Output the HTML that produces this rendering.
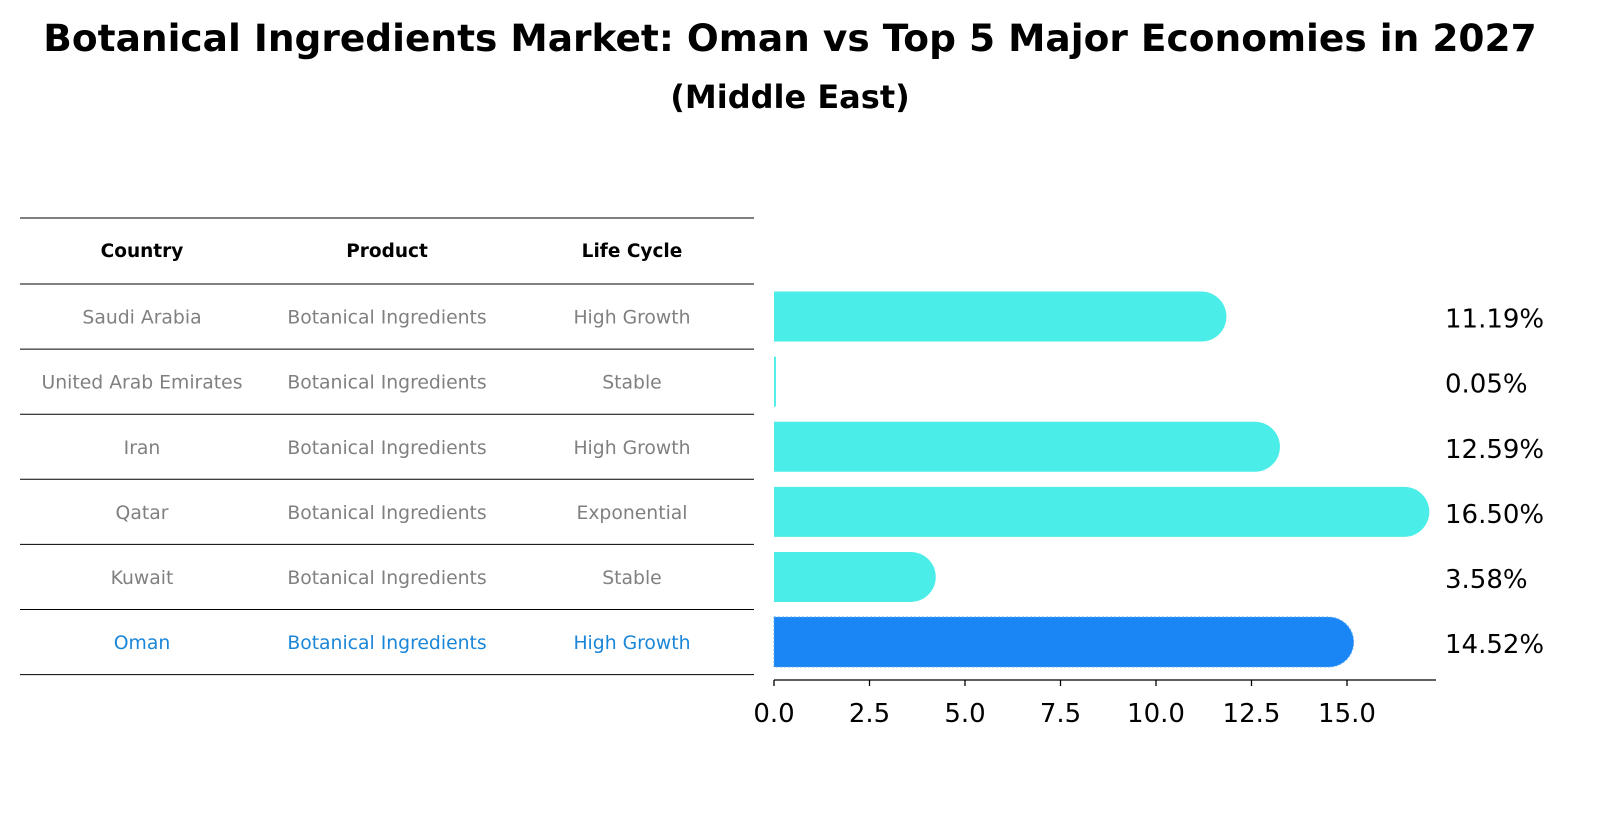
<!DOCTYPE html>
<html><head><meta charset="utf-8"><style>
body{margin:0;background:#fff;}
svg{display:block;font-family:"DejaVu Sans","Liberation Sans",sans-serif;}
</style></head><body>
<svg id="chart" width="1604" height="823" viewBox="0 0 1604 823">
<text x="790" y="51" text-anchor="middle" font-size="37.5" font-weight="bold">Botanical Ingredients Market: Oman vs Top 5 Major Economies in 2027</text>
<text x="790" y="108" text-anchor="middle" font-size="32" font-weight="bold">(Middle East)</text>
<g id="table"></g>
<g id="bars"></g>
<g id="axis"></g>
</svg>
<script>
const countries=["Saudi Arabia","United Arab Emirates","Iran","Qatar","Kuwait","Oman"];
const products=["Botanical Ingredients","Botanical Ingredients","Botanical Ingredients","Botanical Ingredients","Botanical Ingredients","Botanical Ingredients"];
const lifeCycles=["High Growth","Stable","High Growth","Exponential","Stable","High Growth"];
const values=[11.19,0.05,12.59,16.50,3.58,14.52];
const tickValues=[0,2.5,5,7.5,10,12.5,15];
const tickLabels=["0.0","2.5","5.0","7.5","10.0","12.5","15.0"];

const NS="http://www.w3.org/2000/svg";
function mk(tag,attrs,parent){const e=document.createElementNS(NS,tag);for(const k in attrs)e.setAttribute(k,attrs[k]);parent.appendChild(e);return e;}
const x0=774,pxPerUnit=38.2;
const xs=v=>x0+v*pxPerUnit;
const rowTop=284,rowH=65.1;
const yc=i=>rowTop+rowH*(i+0.5);

const tbl=document.getElementById('table');
const cols=[142,387,632];
for(let i=0;i<=countries.length+1;i++){
  const y=i===0?218:rowTop+rowH*(i-1);
  const l=mk('line',{x1:20,x2:754,y1:y,y2:y,stroke:'#000','stroke-width':1},tbl);
  
  
}
const heads=["Country","Product","Life Cycle"];
heads.forEach((h,j)=>{
  const t=mk('text',{x:cols[j],y:257,'text-anchor':'middle','font-size':18.5,'font-weight':'bold'},tbl);
  t.textContent=h;
  
  
});
countries.forEach((c,i)=>{
  const col=i===countries.length-1?'#1a86d8':'#808080';
  [c,products[i],lifeCycles[i]].forEach((s,j)=>{
    const t=mk('text',{x:cols[j],y:yc(i)+7,'text-anchor':'middle','font-size':18.8,fill:col},tbl);
    t.textContent=s;
    
    
  });
});

const bars=document.getElementById('bars');
const bh=50,r=25;
values.forEach((v,i)=>{
  const isOman=i===values.length-1;
  const fill=isOman?'#1a86f5':'#4aede8';
  const xe=xs(v);const yt=yc(i)-bh/2;
  let d;
  if(v*pxPerUnit<2){d=`M${x0},${yt}h${Math.max(1.5,v*pxPerUnit)}v${bh}h${-Math.max(1.5,v*pxPerUnit)}Z`;}
  else d=`M${x0},${yt}H${xe}A${r},${r} 0 0 1 ${xe},${yt+bh}H${x0}Z`;
  const p=mk('path',{d:d,fill:fill},bars);
  if(isOman){p.setAttribute('stroke','#5aaaf5');p.setAttribute('stroke-dasharray','2,2');p.setAttribute('stroke-width','1');}
  
  
  const t=mk('text',{x:1445,y:yc(i)+11,'font-size':26},bars);
  t.textContent=v.toFixed(2)+'%';
  
  
});

const ax=document.getElementById('axis');
const ay=680;
const al=mk('line',{x1:x0,x2:1436,y1:ay,y2:ay,stroke:'#000','stroke-width':1.3},ax);


tickValues.forEach((v,k)=>{
  const tk=mk('line',{x1:xs(v),x2:xs(v),y1:ay,y2:ay+6,stroke:'#000','stroke-width':1.3},ax);
  
  
  const t=mk('text',{x:xs(v),y:ay+42,'text-anchor':'middle','font-size':26},ax);
  t.textContent=tickLabels[k];
  
  
});
</script>
</body></html>
